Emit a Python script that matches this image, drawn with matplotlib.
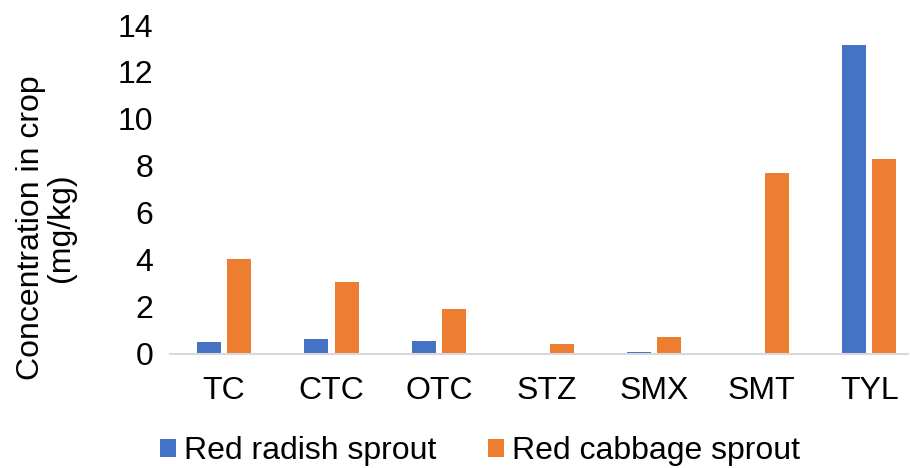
import numpy as np
import matplotlib.pyplot as plt

plt.rcParams['font.family'] = ['Liberation Sans', 'DejaVu Sans']

categories = ['TC', 'CTC', 'OTC', 'STZ', 'SMX', 'SMT', 'TYL']
radish = [0.48, 0.63, 0.54, 0.02, 0.06, 0.0, 13.13]
cabbage = [4.02, 3.03, 1.89, 0.40, 0.70, 7.71, 8.28]

blue = '#4472C4'
orange = '#ED7D31'
fs = 23

fig = plt.figure(figsize=(9.1, 4.68), dpi=100)
ax = fig.add_axes([170 / 910, 1 - 353.5 / 468, 738 / 910, 328.5 / 468])

x = np.arange(len(categories))
w = 0.223
ax.bar(x - 0.141, radish, w, color=blue, label='Red radish sprout')
ax.bar(x + 0.141, cabbage, w, color=orange, label='Red cabbage sprout')

ax.set_xlim(-0.5, 6.36)
ax.set_ylim(0, 14)
ax.set_yticks(range(0, 15, 2))
ax.set_xticks(x)
ax.set_xticklabels(categories)
ax.tick_params(axis='both', length=0, labelsize=fs, colors='black')
ax.tick_params(axis='x', pad=16)
ax.tick_params(axis='y', pad=12)

for s in ['top', 'right', 'left']:
    ax.spines[s].set_visible(False)
ax.spines['bottom'].set_color('#d9d9d9')
ax.spines['bottom'].set_linewidth(1.5)

fig.text(46 / 910, 1 - 228 / 468, 'Concentration in crop\n(mg/kg)', rotation=90,
         ha='center', va='center', fontsize=fs, linespacing=1.0)

fig.legend(loc='center', bbox_to_anchor=(480 / 910, 1 - 451 / 468), ncol=2,
           frameon=False, fontsize=fs, handlelength=0.5, handleheight=0.5,
           handletextpad=0.25, columnspacing=1.6, borderpad=0)

fig.savefig('out.png', dpi=100)
